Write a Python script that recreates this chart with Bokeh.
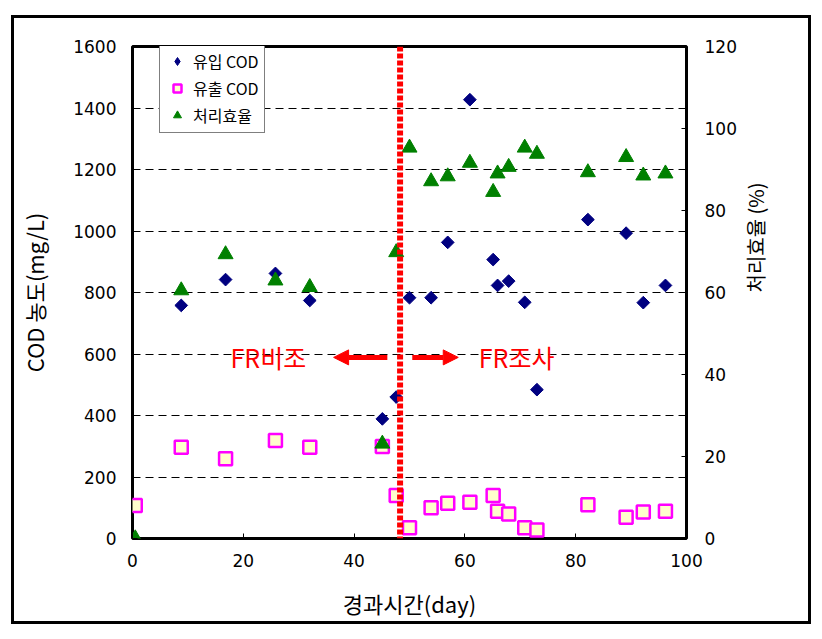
import math
from bokeh.plotting import figure
from bokeh.models import (Range1d, LinearAxis, Legend, LegendItem, FixedTicker,
                          Arrow, NormalHead, Label, Span, ColumnDataSource)
from bokeh.embed import file_html
from bokeh.resources import INLINE

nan = float("nan")

# elapsed time (day)
days = [0.5, 8.8, 16.8, 25.8, 32.0, 45.1, 47.6, 50.0, 53.9, 56.9, 60.9,
        65.1, 65.9, 67.9, 70.8, 73.0, 82.2, 89.1, 92.2, 96.2]
# influent COD (mg/L)
cod_in = [nan, 758, 842, 862, 774, 389, 460, 783, 783, 963, 1427,
          907, 823, 837, 768, 484, 1037, 993, 767, 823]
# effluent COD (mg/L)
cod_out = [107, 297, 259, 319, 297, 299, 140, 35, 100, 115, 118,
           140, 89, 80, 35, 28, 110, 69, 86, 89]
# removal efficiency (%)
eff = [0, 60.5, 69.3, 62.9, 61.3, 23.1, 69.8, 95.3, 87.1, 88.3, 91.6,
       84.5, 89.0, 90.6, 95.3, 93.8, 89.3, 93.0, 88.5, 89.0]

x_ticks = [0, 20, 40, 60, 80, 100]
left_ticks = [0, 200, 400, 600, 800, 1000, 1200, 1400, 1600]
right_ticks = [0, 20, 40, 60, 80, 100, 120]
grid_lines = [200, 400, 600, 800, 1000, 1200, 1400]

split_day = 48.3
arrow_y = 589

src = ColumnDataSource(dict(day=days, cin=cod_in, cout=cod_out, eff=eff))

p = figure(frame_width=554, frame_height=492, output_backend="svg",
           toolbar_location=None, x_range=Range1d(0, 100), y_range=Range1d(0, 1600),
           min_border_left=118, min_border_top=28, min_border_right=122,
           min_border_bottom=83)
p.styles = {"border": "3px solid black", "margin-left": "11px", "margin-top": "15px"}
p.background_fill_color = "white"
p.border_fill_color = "white"
p.outline_line_color = "black"
p.outline_line_width = 3

p.extra_y_ranges = {"eff": Range1d(0, 120)}

TICK_FONT = "DejaVu Sans"
KR_FONT = "Noto Sans CJK KR"

def style_axis(ax, label_size):
    ax.axis_line_color = None
    ax.major_tick_in = 5
    ax.major_tick_out = 0
    ax.minor_tick_line_color = None
    ax.major_tick_line_color = "black"
    ax.major_tick_line_width = 1
    ax.major_label_text_font = TICK_FONT
    ax.major_label_text_font_size = "17px"
    ax.major_label_text_color = "black"
    ax.axis_label_text_font = KR_FONT
    ax.axis_label_text_font_size = label_size
    ax.axis_label_text_font_style = "normal"
    ax.axis_label_text_color = "black"

xa = p.xaxis[0]
style_axis(xa, "22px")
xa.ticker = FixedTicker(ticks=x_ticks)
xa.axis_label = "경과시간(day)"
xa.major_label_standoff = 15
xa.axis_label_standoff = 17

ya = p.yaxis[0]
style_axis(ya, "22px")
ya.ticker = FixedTicker(ticks=left_ticks)
ya.axis_label = "COD 농도(mg/L)"
ya.major_label_standoff = 16
ya.axis_label_standoff = 20

ra = LinearAxis(y_range_name="eff")
style_axis(ra, "20px")
ra.ticker = FixedTicker(ticks=right_ticks)
ra.major_label_standoff = 18
ra.axis_label = "처리효율 (%)"
ra.axis_label_standoff = 16
if hasattr(ra, "axis_label_orientation"):
    ra.axis_label_orientation = math.pi / 2
p.add_layout(ra, "right")

p.xgrid.visible = False
p.ygrid.ticker = FixedTicker(ticks=grid_lines)
p.ygrid.grid_line_color = "black"
p.ygrid.grid_line_dash = "8 5"
p.ygrid.grid_line_width = 1

r_in = p.scatter("day", "cin", source=src, marker="square", angle=math.pi / 4,
                 size=9, fill_color="#000080", line_color="#000080")
r_out = p.scatter("day", "cout", source=src, marker="square", size=13,
                  fill_color="#FFFFCC", line_color="#FF00FF", line_width=2.5)
r_eff = p.scatter("day", "eff", source=src, y_range_name="eff", marker="triangle",
                  size=15, fill_color="#008000", line_color="#008000")

# placeholder renderers (no visible point) used only for the legend swatches
legend_src = ColumnDataSource(dict(x=[nan], y=[nan]))
l_in = p.scatter("x", "y", source=legend_src, marker="diamond", size=15,
                 fill_color="#000080", line_color="#000080")
l_out = p.scatter("x", "y", source=legend_src, marker="square", size=11,
                  fill_color="#FFFFCC", line_color="#FF00FF", line_width=2.5)
l_eff = p.scatter("x", "y", source=legend_src, marker="triangle", size=14,
                  fill_color="#008000", line_color="#008000")

p.add_layout(Span(location=split_day, dimension="height", line_color="#FF0000",
                  line_width=6, line_dash="5 2"))

p.add_layout(Arrow(end=NormalHead(size=15, fill_color="#FF0000", line_color="#FF0000"),
                   x_start=46.0, y_start=arrow_y, x_end=36.3, y_end=arrow_y,
                   line_color="#FF0000", line_width=5))
p.add_layout(Arrow(end=NormalHead(size=15, fill_color="#FF0000", line_color="#FF0000"),
                   x_start=50.5, y_start=arrow_y, x_end=58.8, y_end=arrow_y,
                   line_color="#FF0000", line_width=5))

p.add_layout(Label(x=17.7, y=arrow_y, text="FR비조", text_color="#FF0000",
                   text_font=KR_FONT, text_font_size="25px", text_baseline="middle"))
p.add_layout(Label(x=62.5, y=arrow_y, text="FR조사", text_color="#FF0000",
                   text_font=KR_FONT, text_font_size="25px", text_baseline="middle"))

legend = Legend(items=[LegendItem(label="유입 COD", renderers=[l_in]),
                       LegendItem(label="유출 COD", renderers=[l_out]),
                       LegendItem(label="처리효율", renderers=[l_eff])],
                location=(27, 405))
legend.border_line_color = "black"
legend.border_line_width = 1
legend.background_fill_color = "white"
legend.background_fill_alpha = 1
legend.label_text_font = KR_FONT
legend.label_text_font_size = "16px"
legend.label_text_color = "black"
legend.label_height = 20
legend.glyph_height = 20
legend.glyph_width = 24
legend.spacing = 3
legend.padding = 5
legend.margin = 0
legend.label_standoff = 4
p.add_layout(legend)

open("out.html", "w").write(file_html(p, INLINE))
